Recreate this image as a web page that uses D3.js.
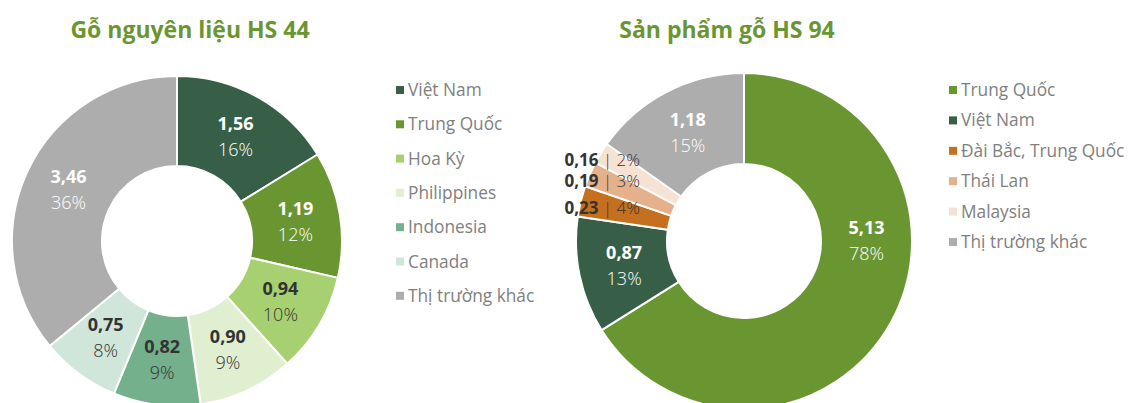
<!DOCTYPE html>
<html><head><meta charset="utf-8">
<script src="https://cdn.jsdelivr.net/npm/d3@7"></script>
<style>
html,body{margin:0;padding:0;background:#fff;}
svg{display:block;font-family:"Open Sans",Lato,sans-serif;}
</style></head>
<body>
<svg id="chart" width="1132" height="403"></svg>
<script>
// ---- Data ----
const leftTitle = "Gỗ nguyên liệu HS 44";
const leftCategories = ["Việt Nam","Trung Quốc","Hoa Kỳ","Philippines","Indonesia","Canada","Thị trường khác"];
const leftValues = [1.56,1.19,0.94,0.90,0.82,0.75,3.46];
const leftPercents = ["16%","12%","10%","9%","9%","8%","36%"];

const rightTitle = "Sản phẩm gỗ HS 94";
const rightCategories = ["Trung Quốc","Việt Nam","Đài Bắc, Trung Quốc","Thái Lan","Malaysia","Thị trường khác"];
const rightValues = [5.13,0.87,0.23,0.19,0.16,1.18];
const rightPercents = ["78%","13%","4%","3%","2%","15%"];

// ---- Styles ----
const leftColors = ["#375F47","#6A9632","#A7D070","#E1EFD1","#74B08B","#D0E6DA","#ADADAD"];
const leftLabelColors = ["#fff","#fff","#333","#333","#333","#333","#fff"];
const rightColors = ["#6A9632","#375F47","#C5701F","#E6B08A","#F6E2D2","#ADADAD"];
const rightLabelColors = ["#fff","#fff","#333","#333","#333","#fff"];
const rightOutside = [false,false,true,true,true,false];
const rightLabelAngle = [90,null,null,null,null,null]; // degrees, null = centroid

const svg = d3.select("#chart");
const fmt = v => d3.format(".2f")(v).replace(".", ",");

function donut(cfg){
  const g = svg.append("g").attr("transform",`translate(${cfg.cx},${cfg.cy})`);
  const pie = d3.pie().sort(null).value(d=>d.v);
  const data = cfg.values.map((v,i)=>({v,i}));
  const arcs = pie(data);
  const arc = d3.arc().innerRadius(cfg.ri).outerRadius(cfg.ro);
  g.selectAll("path").data(arcs).join("path")
    .attr("d",arc)
    .attr("fill",d=>cfg.colors[d.data.i])
    .attr("stroke","#fff").attr("stroke-width",2).attr("stroke-linejoin","round");
  const lr = (cfg.ri+cfg.ro)/2;
  arcs.forEach((a,i)=>{
    if(cfg.outside && cfg.outside[i]){
      const mid=(a.startAngle+a.endAngle)/2;
      const y = -Math.cos(mid)*cfg.ro + 7;
      const t = g.append("text").attr("x",cfg.outsideX).attr("y",y).attr("dy","0.35em")
        .attr("text-anchor","end").attr("font-size",17).attr("fill","#333");
      t.append("tspan").attr("font-weight",700).text(fmt(cfg.values[i]));
      t.append("tspan").attr("font-weight",300).text(" | "+cfg.percents[i]);
      return;
    }
    let x,y;
    if(cfg.labelAngle && cfg.labelAngle[i]!=null){
      const ang = cfg.labelAngle[i]*Math.PI/180;
      x = Math.sin(ang)*lr; y=-Math.cos(ang)*lr;
    } else {
      [x,y] = d3.arc().innerRadius(lr).outerRadius(lr).centroid(a);
    }
    g.append("text").attr("x",x).attr("y",y-13).attr("dy","0.35em")
      .attr("text-anchor","middle").attr("font-size",18).attr("font-weight",700)
      .attr("fill",cfg.labelColors[i]).text(fmt(cfg.values[i]));
    g.append("text").attr("x",x).attr("y",y+13).attr("dy","0.35em")
      .attr("text-anchor","middle").attr("font-size",18).attr("font-weight",300)
      .attr("fill",cfg.labelColors[i]).text(cfg.percents[i]);
  });
  svg.append("text").attr("x",cfg.titleX).attr("y",30).attr("dy","0.35em")
    .attr("text-anchor","middle").attr("font-size",23).attr("font-weight",700)
    .attr("fill","#6A9632").text(cfg.title);
  const lg = svg.append("g").attr("transform",`translate(${cfg.legX},${cfg.legY})`);
  const ly = d3.scaleBand().domain(cfg.categories).range([0,cfg.legStep*cfg.categories.length]).paddingInner(0);
  cfg.categories.forEach((c,i)=>{
    const yy = ly(c);
    lg.append("rect").attr("x",0).attr("y",yy-4).attr("width",8).attr("height",8).attr("fill",cfg.colors[i]);
    lg.append("text").attr("x",12).attr("y",yy).attr("dy","0.35em").attr("font-size",17.3)
      .attr("fill","#808080").text(c);
  });
}

donut({cx:177,cy:241,ro:165,ri:75,values:leftValues,percents:leftPercents,colors:leftColors,
  labelColors:leftLabelColors,title:leftTitle,titleX:190,categories:leftCategories,
  legX:396,legY:90,legStep:34.3});
donut({cx:744,cy:241,ro:168,ri:77,values:rightValues,percents:rightPercents,colors:rightColors,
  labelColors:rightLabelColors,title:rightTitle,titleX:727,categories:rightCategories,
  legX:949,legY:90,legStep:30.4,outside:rightOutside,outsideX:640-744,labelAngle:rightLabelAngle});
</script>
</body></html>
